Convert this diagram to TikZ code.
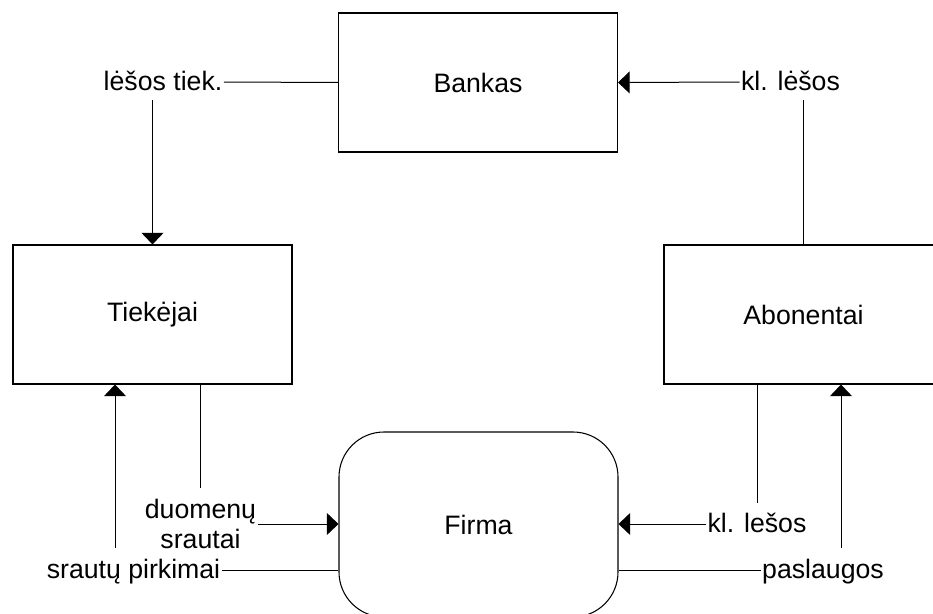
\documentclass[tikz,border=0pt]{standalone}
\usepackage{fontspec}
\setmainfont{Liberation Sans}
\usepackage{tikz}
\usetikzlibrary{arrows.meta}
\newcommand{\lbfont}{\fontsize{20}{22.5}\selectfont}
\tikzset{
  entity/.style={draw=black, line width=0.8pt, fill=white, inner sep=0pt,
                 minimum width=209.25pt, minimum height=104.25pt,
                 font=\lbfont},
  firm/.style={entity, rounded corners=33.75pt, minimum height=138.75pt},
  lbl/.style={font=\lbfont, inner xsep=1pt, inner ysep=4.5pt,
              text height=15pt, text depth=3pt},
  lbltwo/.style={font=\lbfont, align=center, inner xsep=1pt, inner ysep=8.25pt},
  wire/.style={line width=0.75pt, draw=black},
  flow/.style={wire, -{Triangle[length=8.75pt, width=16.5pt]}},
}

\begin{document}
\begin{tikzpicture}[x=0.75pt, y=-0.75pt]
  \clip (0,0) rectangle (933,614);
  \useasboundingbox (0,0) rectangle (933,614);

  % entities
  \node[entity] (bank)  at (478,82.5)    {Bankas};
  \node[entity] (tiek)  at (152.5,314.5) {Tiekėjai};
  \node[entity] (abon)  at (803.5,314.5) {Abonentai};
  \node[firm]   (firma) at (478.5,524.5) {Firma};

  % flow labels
  \node[lbl]    (lt) at (163,82)    {lėšos tiek.};
  \node[lbl]    (kl) at (790.5,82)  {kl. lėšos};
  \node[lbltwo] (ds) at (200.5,524) {duomenų\\srautai};
  \node[lbl]    (sp) at (133.5,570) {srautų pirkimai};
  \node[lbl, inner ysep=6.75pt] (kr) at (757,524) {kl. lešos};
  \node[lbl]    (ps) at (823,570)   {paslaugos};
  \coordinate (spup) at (115,548);
  \coordinate (psup) at (841,548);

  % top
  \draw[wire] (lt.east) -- (bank.west);
  \draw[flow] (lt.south -| tiek.north) -- (tiek.north);
  \draw[flow] (kl.west) -- (bank.east);
  \draw[wire] (kl.south -| abon.north) -- (abon.north);

  % bottom
  \draw[wire] (tiek.south -| ds.north) -- (ds.north);
  \draw[flow] (ds.east) -- (ds.east -| firma.west);
  \draw[flow] (spup) -- (spup |- tiek.south);
  \draw[wire] (sp.east) -- (sp.east -| firma.west);
  \draw[wire] (abon.south -| kr.north) -- (kr.north);
  \draw[flow] (kr.west) -- (kr.west -| firma.east);
  \draw[flow] (psup) -- (psup |- abon.south);
  \draw[wire] (ps.west) -- (ps.west -| firma.east);
\end{tikzpicture}
\end{document}
